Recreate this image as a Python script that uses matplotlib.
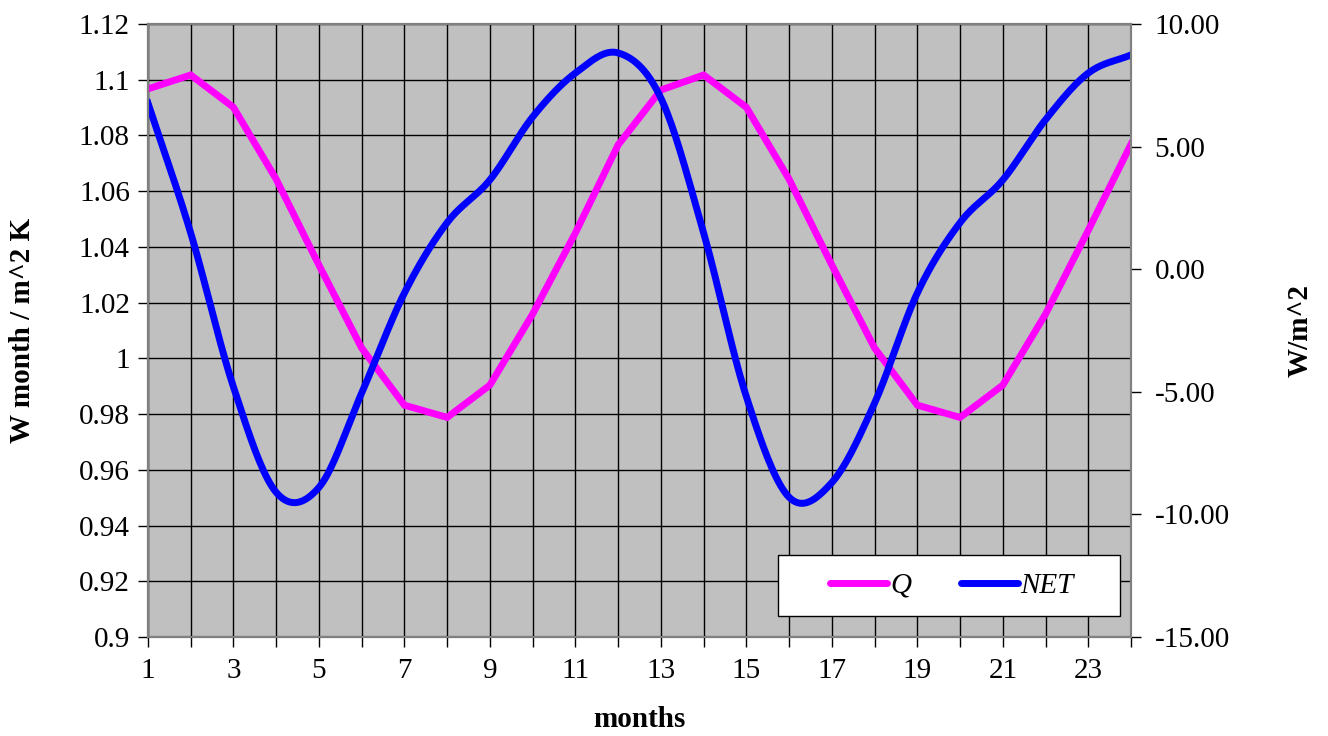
import numpy as np
import matplotlib
matplotlib.use("Agg")
import matplotlib.pyplot as plt
from matplotlib.patches import Rectangle
from matplotlib.ticker import FuncFormatter, MultipleLocator

months = list(range(1, 25))
q_values = [1.0967, 1.1017, 1.0901, 1.0643, 1.0335, 1.0037, 0.9832, 0.9788,
            0.9904, 1.0159, 1.0450, 1.0766, 1.0963, 1.1017, 1.0901, 1.0643,
            1.0335, 1.0037, 0.9832, 0.9788, 0.9904, 1.0159, 1.0460, 1.0769]
net_values = [6.78, 1.48, -4.8, -9.1, -8.9, -5.05, -0.97, 1.9, 3.64, 6.21,
              8.0, 8.82, 6.98, 1.48, -5.2, -9.3, -8.7, -5.46, -0.97, 1.9,
              3.64, 6.1, 8.0, 8.74]


def smooth(x, y, n=20):
    # Catmull-Rom style smoothing, like spreadsheet "smoothed line"
    x = np.asarray(x, float)
    y = np.asarray(y, float)
    px = np.concatenate([[2 * x[0] - x[1]], x, [2 * x[-1] - x[-2]]])
    py = np.concatenate([[2 * y[0] - y[1]], y, [2 * y[-1] - y[-2]]])
    xs, ys = [], []
    t = np.linspace(0, 1, n, endpoint=False)
    for i in range(1, len(px) - 2):
        for arr, out in ((px, xs), (py, ys)):
            p0, p1, p2, p3 = arr[i - 1], arr[i], arr[i + 1], arr[i + 2]
            out.extend(0.5 * ((2 * p1) + (-p0 + p2) * t
                              + (2 * p0 - 5 * p1 + 4 * p2 - p3) * t ** 2
                              + (-p0 + 3 * p1 - 3 * p2 + p3) * t ** 3))
    xs.append(x[-1])
    ys.append(y[-1])
    return np.array(xs), np.array(ys)


plt.rcParams["font.family"] = ["Liberation Serif", "DejaVu Serif"]
fs = 21

fig = plt.figure(figsize=(13.28, 7.36), dpi=100)
ax = fig.add_axes([0.1114, 0.1345, 0.7403, 0.8329])
ax.set_facecolor("#c0c0c0")

ax.set_xlim(1, 24)
ax.set_ylim(0.9, 1.12)
ax.xaxis.set_major_locator(MultipleLocator(1))
ax.yaxis.set_major_locator(MultipleLocator(0.02))
ax.xaxis.set_major_formatter(FuncFormatter(lambda v, p: "%d" % v if int(round(v)) % 2 == 1 else ""))
ax.yaxis.set_major_formatter(FuncFormatter(lambda v, p: "%g" % round(v, 2)))
ax.grid(True, color="black", linewidth=1.0)
ax.set_axisbelow(True)
ax.tick_params(axis="both", labelsize=fs, length=7, width=1, direction="out", pad=6)
ax.tick_params(axis="x", pad=8)

ax2 = ax.twinx()
ax2.set_ylim(-15, 10)
ax2.yaxis.set_major_locator(MultipleLocator(5))
ax2.yaxis.set_major_formatter(FuncFormatter(lambda v, p: "%.2f" % v))
ax2.tick_params(axis="y", labelsize=fs, length=7, width=1, direction="out", pad=10)

for a in (ax, ax2):
    for s in a.spines.values():
        s.set_color("#808080")
        s.set_linewidth(1.5)
ax.spines["left"].set_color("black")
ax.spines["bottom"].set_color("black")

ax.plot(months, q_values, color="#ff00ff", linewidth=5, solid_joinstyle="miter", label="Q")
nx, ny = smooth(months, net_values)
ax2.plot(nx, ny, color="#0000ff", linewidth=5, label="NET")

ax.set_xlabel("months", fontsize=fs, fontweight="bold")
ax.xaxis.set_label_coords(0.5, -0.112)
ax.set_ylabel("W month / m^2 K", fontsize=fs, fontweight="bold")
ax.yaxis.set_label_coords(-0.114, 0.5)
ax2.set_ylabel("W/m^2", fontsize=fs, fontweight="bold")
ax2.yaxis.set_label_coords(1.158, 0.5)

# legend box drawn by hand, entries centred inside it
box = Rectangle((0.641, 0.034), 0.348, 0.0995, transform=ax2.transAxes,
                facecolor="white", edgecolor="black", linewidth=1, zorder=5)
ax2.add_patch(box)

h1, l1 = ax.get_legend_handles_labels()
h2, l2 = ax2.get_legend_handles_labels()
leg = ax2.legend(h1 + h2, l1 + l2, loc="center",
                 bbox_to_anchor=(0.818, 0.084), borderaxespad=0, ncol=2,
                 fontsize=fs, frameon=False,
                 handlelength=1.95, handletextpad=0.1, columnspacing=1.7)
leg.set_zorder(6)
for txt in leg.get_texts():
    txt.set_fontstyle("italic")
for line in leg.get_lines():
    line.set_solid_capstyle("round")

fig.savefig("out.png", dpi=100, facecolor="white")
